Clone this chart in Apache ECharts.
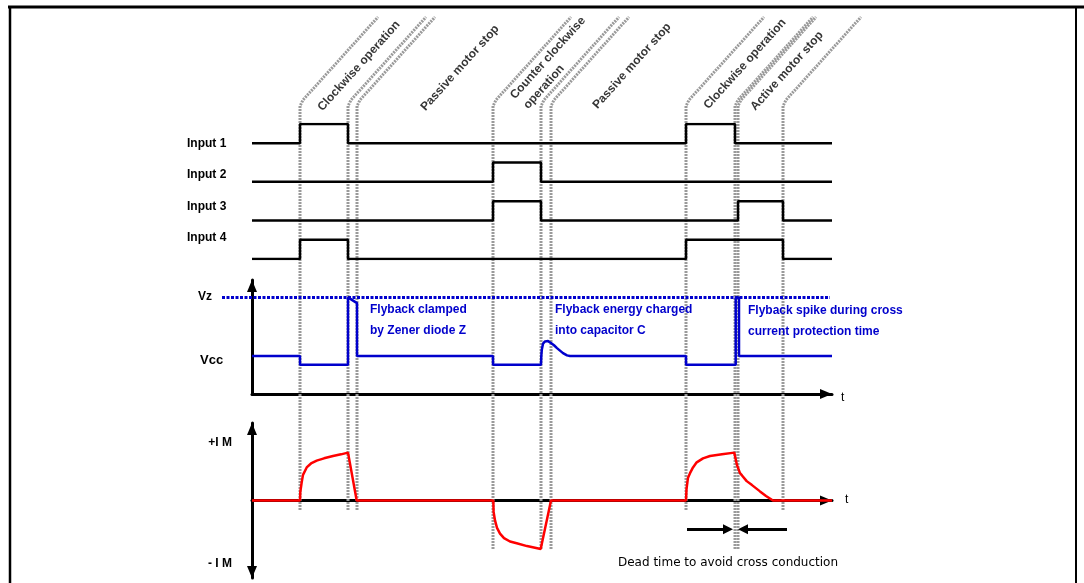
<!DOCTYPE html>
<html>
<head>
<meta charset="utf-8">
<title>Motor drive timing</title>
<style>
  html, body { margin: 0; padding: 0; background: #fff; }
  #chart { width: 1084px; height: 583px; }
</style>
</head>
<body>
<div id="chart"></div>
<script src="https://cdn.jsdelivr.net/npm/echarts@6/dist/echarts.min.js"></script>
<script>
// time runs 0..580 (arbitrary units)
var tEnd = 580;
// switching instants (dashed guides)
var events = [48, 96, 105, 241, 289, 299, 434, 483, 486, 531];
var longGuides = [241, 289, 299, 483, 486];
var deadTime = [483, 486];

// input levels: [time, 0|1]
var input1 = [[0, 0], [48, 1], [96, 0], [434, 1], [483, 0], [580, 0]];
var input2 = [[0, 0], [241, 1], [289, 0], [580, 0]];
var input3 = [[0, 0], [241, 1], [289, 0], [486, 1], [531, 0], [580, 0]];
var input4 = [[0, 0], [48, 1], [96, 0], [434, 1], [531, 0], [580, 0]];
var inputNames = ['Input 1', 'Input 2', 'Input 3', 'Input 4'];

// bridge voltage
var VZ = 30.5;
var VCC = 12;
var voltage = [
  [0, 12], [48, 12], [48, 9.2], [96, 9.2], [96, 30.5], [105, 28.7], [105, 12],
  [241, 12], [241, 9.2], [289, 9.2], [289.3, 12], [289.8, 14], [291, 15.9], [293, 16.6],
  [296, 16.7], [299, 16.1], [302, 15.4], [305, 14.5], [308, 13.7], [311, 12.9], [315, 12.2],
  [318, 12], [434, 12], [434, 9.2], [483.7, 9.2], [483.7, 30.5], [487, 30.5], [487, 12], [580, 12]
];

// motor current (units of IM)
var current = [
  [0, 0], [48, 0], [48.3, 0.15], [49.7, 0.32], [51, 0.45], [54.7, 0.58], [59, 0.65],
  [64.7, 0.7], [72, 0.74], [81, 0.78], [89, 0.81], [96, 0.84], [104.7, 0],
  [241.3, 0], [241.6, -0.2], [243, -0.35], [245, -0.48], [248, -0.58], [252, -0.66],
  [258, -0.72], [264.7, -0.75], [275, -0.8], [288.7, -0.85], [299, 0],
  [434, 0], [434.5, 0.2], [436, 0.4], [438, 0.48], [441, 0.58], [444.7, 0.67], [451, 0.74],
  [458, 0.78], [470, 0.81], [482.3, 0.84], [485, 0.62], [488, 0.48], [490, 0.44],
  [494.7, 0.34], [500, 0.27], [508, 0.16], [514, 0.08], [521, 0], [580, 0]
];

var phaseLabels = [
  ['Clockwise operation', 107, 66],
  ['Passive motor stop', 208, 68],
  ['Counter clockwise', 296, 58],
  ['operation', 292, 87],
  ['Passive motor stop', 380, 66],
  ['Clockwise operation', 493, 64],
  ['Active motor stop', 535, 71]
];

var chart = echarts.init(document.getElementById('chart'));
var BLUE = '#0000cc';
var FONT = '"Liberation Sans", Arial, sans-serif';

function noAxis(gi, min, max, inverse) {
  return { gridIndex: gi, type: 'value', min: min, max: max, inverse: !!inverse, show: false };
}
function arrowAxis(gi, min, max, symbol, offset, onZero) {
  return {
    gridIndex: gi, type: 'value', min: min, max: max,
    axisLine: { show: true, onZero: onZero, symbol: symbol, symbolSize: [10, 12], symbolOffset: offset,
      lineStyle: { color: '#000', width: 3 } },
    axisTick: { show: false }, axisLabel: { show: false }, splitLine: { show: false }
  };
}

var series = [];

// guides (overlay grid, wider so the slanted tails are not clipped)
events.forEach(function (e) {
  var bottom = longGuides.indexOf(e) >= 0 ? 549 : 510;
  series.push({
    type: 'line', xAxisIndex: 3, yAxisIndex: 3, silent: true, z: 1,
    showSymbol: false, symbol: 'none',
    lineStyle: { color: '#9a9a9a', width: 3, type: [2, 1] },
    data: [[e, bottom], [e, 106], [e + 3, 100], [e + 78, 17]]
  });
});

// phase labels
series.push({
  type: 'scatter', xAxisIndex: 3, yAxisIndex: 3, silent: true, symbolSize: 1, z: 5,
  itemStyle: { color: 'rgba(0,0,0,0)' },
  label: { show: true, position: 'inside', rotate: 48, formatter: '{b}', color: '#000',
    fontSize: 12, fontWeight: 'bold', fontFamily: FONT },
  data: phaseLabels.map(function (p) { return { name: p[0], value: [p[1], p[2]] }; })
});

// inputs
[input1, input2, input3, input4].forEach(function (inp, i) {
  var base = 3 - i;
  series.push({
    type: 'line', xAxisIndex: 0, yAxisIndex: 0, step: 'end', showSymbol: false, symbol: 'none', z: 3,
    lineStyle: { color: '#000', width: 2.5 },
    data: inp.map(function (p) { return [p[0], base + 0.5 * p[1]]; })
  });
});

// Vz level (own grid so it can start left of the voltage axis)
series.push({
  type: 'line', xAxisIndex: 4, yAxisIndex: 4, showSymbol: false, symbol: 'none', z: 3,
  lineStyle: { color: BLUE, width: 3, type: [3, 1.5] },
  data: [[-30, VZ], [578, VZ]]
});
series.push({
  type: 'line', xAxisIndex: 1, yAxisIndex: 1, showSymbol: false, symbol: 'none', z: 4,
  lineStyle: { color: BLUE, width: 2.5 },
  data: voltage
});

// current + dead time arrows
var yArrow = -0.505;
series.push({
  type: 'line', xAxisIndex: 2, yAxisIndex: 2, showSymbol: false, symbol: 'none', z: 4,
  lineStyle: { color: '#ff0000', width: 2.5 },
  data: current,
  markLine: {
    silent: true, symbol: ['none', 'triangle'], symbolSize: 10, animation: false,
    label: { show: false },
    lineStyle: { color: '#000', width: 3, type: 'solid' },
    data: [
      [{ coord: [deadTime[0] - 48, yArrow] }, { coord: [deadTime[0] - 7, yArrow] }],
      [{ coord: [deadTime[1] + 49, yArrow] }, { coord: [deadTime[1] + 5, yArrow] }]
    ]
  }
});

function txt(s, x, y, opts) {
  opts = opts || {};
  return {
    type: 'text', x: x, y: y, silent: true, z: 10,
    style: {
      text: s, fill: opts.fill || '#000',
      font: opts.font || ('bold 12px ' + FONT),
      align: opts.align || 'left', textAlign: opts.align || 'left',
      verticalAlign: 'middle', textVerticalAlign: 'middle'
    }
  };
}

var graphics = [
  { type: 'line', silent: true, shape: { x1: 8, y1: 7, x2: 1084, y2: 7 }, style: { stroke: '#000', lineWidth: 3 } },
  { type: 'line', silent: true, shape: { x1: 10, y1: 6, x2: 10, y2: 583 }, style: { stroke: '#000', lineWidth: 2.5 } },
  { type: 'line', silent: true, shape: { x1: 1076, y1: 6, x2: 1076, y2: 583 }, style: { stroke: '#000', lineWidth: 2 } }
];
var inputLabelY = [144, 175, 207, 238];
inputNames.forEach(function (n, i) { graphics.push(txt(n, 187, inputLabelY[i])); });
graphics.push(txt('Vz', 198, 297));
graphics.push(txt('Vcc', 200, 360, { font: 'bold 13px ' + FONT }));
graphics.push(txt('+I M', 232, 443, { align: 'right' }));
graphics.push(txt('- I M', 232, 564, { align: 'right' }));
graphics.push(txt('t', 841, 398, { font: '12px ' + FONT }));
graphics.push(txt('t', 845, 500, { font: '12px ' + FONT }));
graphics.push(txt('Flyback clamped', 370, 310, { fill: BLUE }));
graphics.push(txt('by Zener diode Z', 370, 331, { fill: BLUE }));
graphics.push(txt('Flyback energy charged', 555, 310, { fill: BLUE }));
graphics.push(txt('into capacitor C', 555, 331, { fill: BLUE }));
graphics.push(txt('Flyback spike during cross', 748, 311, { fill: BLUE }));
graphics.push(txt('current protection time', 748, 332, { fill: BLUE }));
graphics.push(txt('Dead time to avoid cross conduction', 618, 563, { font: '12px "DejaVu Sans", sans-serif' }));

var option = {
  animation: false,
  backgroundColor: '#fff',
  grid: [
    { left: 252, top: 124, width: 580, height: 135, outerBoundsMode: 'none' },
    { left: 252, top: 280, width: 580, height: 114, outerBoundsMode: 'none' },
    { left: 252, top: 423, width: 580, height: 155, outerBoundsMode: 'none' },
    { left: 222, top: 0, width: 680, height: 583, outerBoundsMode: 'none' },
    { left: 222, top: 280, width: 680, height: 114, outerBoundsMode: 'none' }
  ],
  xAxis: [
    noAxis(0, 0, tEnd),
    arrowAxis(1, 0, tEnd, ['none', 'triangle'], [0, -6], false),
    arrowAxis(2, 0, tEnd, ['none', 'triangle'], [0, -6], true),
    noAxis(3, -30, 650),
    noAxis(4, -30, 650)
  ],
  yAxis: [
    noAxis(0, 0, 3.5),
    arrowAxis(1, 0, 36, ['none', 'triangle'], [0, -6], false),
    arrowAxis(2, -1.36, 1.36, ['triangle', 'triangle'], [6, -6], false),
    noAxis(3, 0, 583, true),
    noAxis(4, 0, 36)
  ],
  series: series,
  graphic: graphics
};

chart.setOption(option);
</script>
</body>
</html>
